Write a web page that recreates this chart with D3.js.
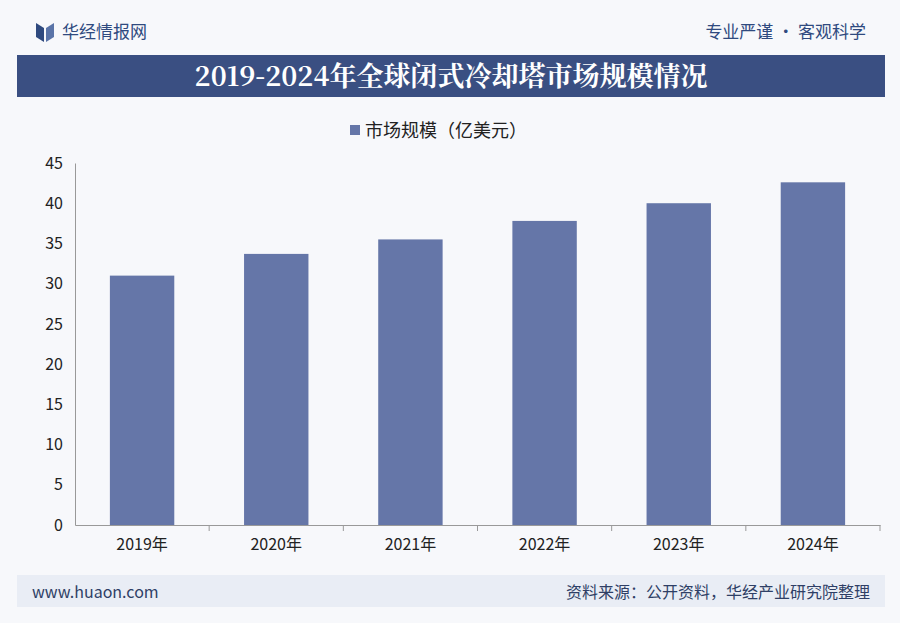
<!DOCTYPE html>
<html><head><meta charset="utf-8">
<script src="https://cdn.jsdelivr.net/npm/d3@7"></script>
<style>body{margin:0;background:#fff}svg{display:block}</style>
</head><body>
<svg id="chart" width="900" height="623"></svg>
<script>
var years = ["2019年", "2020年", "2021年", "2022年", "2023年", "2024年"];
var marketSize = [31.0, 33.7, 35.5, 37.8, 40.0, 42.6];
var yTicks = [0, 5, 10, 15, 20, 25, 30, 35, 40, 45];

var svg = d3.select("#chart");
var font = "'Noto Sans CJK SC', 'Noto Sans', sans-serif";
var barColor = "#6576a8";

svg.append("rect").attr("width", 900).attr("height", 623).attr("fill", "#f7f8fb");

// header
svg.append("path").attr("d", "M36 23 L44 28 L44 42 L36 37 Z").attr("fill", "#2f4a7f");
svg.append("path").attr("d", "M46 28 L54 23 L54 37 L46 42 Z").attr("fill", "#5a74a8");
svg.append("text").attr("x", 62).attr("y", 38).text("华经情报网")
  .attr("font-family", font).attr("font-size", 17).attr("fill", "#2f4a7f");
svg.append("text").attr("x", 866).attr("y", 38).attr("text-anchor", "end").text("专业严谨 • 客观科学")
  .attr("font-family", font).attr("font-size", 17).attr("fill", "#2f4a7f");

svg.append("rect").attr("x", 17).attr("y", 55).attr("width", 868).attr("height", 42).attr("fill", "#3a4f82");
svg.append("text").attr("x", 451).attr("y", 86).attr("text-anchor", "middle")
  .text("2019-2024年全球闭式冷却塔市场规模情况")
  .attr("font-family", "'Noto Serif CJK SC', 'Noto Sans CJK SC', serif").attr("font-weight", "bold")
  .attr("font-size", 27).attr("fill", "#fff");

// legend
svg.append("rect").attr("x", 350).attr("y", 125).attr("width", 10).attr("height", 10).attr("fill", barColor);
svg.append("text").attr("x", 365).attr("y", 137).text("市场规模（亿美元）")
  .attr("font-family", font).attr("font-size", 18).attr("fill", "#222");

// plot
var margin = {left: 75, right: 880, top: 163, bottom: 525};
var x = d3.scaleBand().domain(years).range([margin.left, margin.right]).paddingInner(0.52).paddingOuter(0.26);
var y = d3.scaleLinear().domain([0, 45]).range([margin.bottom, margin.top]);

svg.append("g").attr("transform", "translate(" + margin.left + ",0)")
  .call(d3.axisLeft(y).tickValues(yTicks).tickSize(0).tickPadding(12))
  .call(function(g){ g.select(".domain").attr("stroke", "#999"); })
  .selectAll("text").attr("font-family", font).attr("font-size", 16).attr("fill", "#222");

svg.selectAll(".bar").data(marketSize).enter().append("rect")
  .attr("x", function(d, i){ return x(years[i]); })
  .attr("y", function(d){ return y(d); })
  .attr("width", x.bandwidth())
  .attr("height", function(d){ return y(0) - y(d); })
  .attr("fill", barColor);

var xAxis = d3.scaleBand().domain(years).range([margin.left, margin.right]);
svg.append("g").attr("transform", "translate(0," + margin.bottom + ")")
  .call(d3.axisBottom(xAxis).tickSizeOuter(0).tickSizeInner(6).tickPadding(8))
  .call(function(g){
    g.select(".domain").attr("stroke", "#999");
    g.selectAll(".tick line").attr("stroke", "#999")
      .attr("transform", "translate(" + (xAxis.bandwidth() / 2) + ",0)");
  })
  .selectAll("text").attr("font-family", font).attr("font-size", 16).attr("fill", "#222");

// footer
svg.append("rect").attr("x", 17).attr("y", 575).attr("width", 868).attr("height", 32).attr("fill", "#e9edf5");
svg.append("text").attr("x", 32).attr("y", 598).text("www.huaon.com")
  .attr("font-family", font).attr("font-size", 16).attr("fill", "#2f3f66");
svg.append("text").attr("x", 870).attr("y", 598).attr("text-anchor", "end").text("资料来源：公开资料，华经产业研究院整理")
  .attr("font-family", font).attr("font-size", 16).attr("fill", "#2f3f66");
</script>
</body></html>
